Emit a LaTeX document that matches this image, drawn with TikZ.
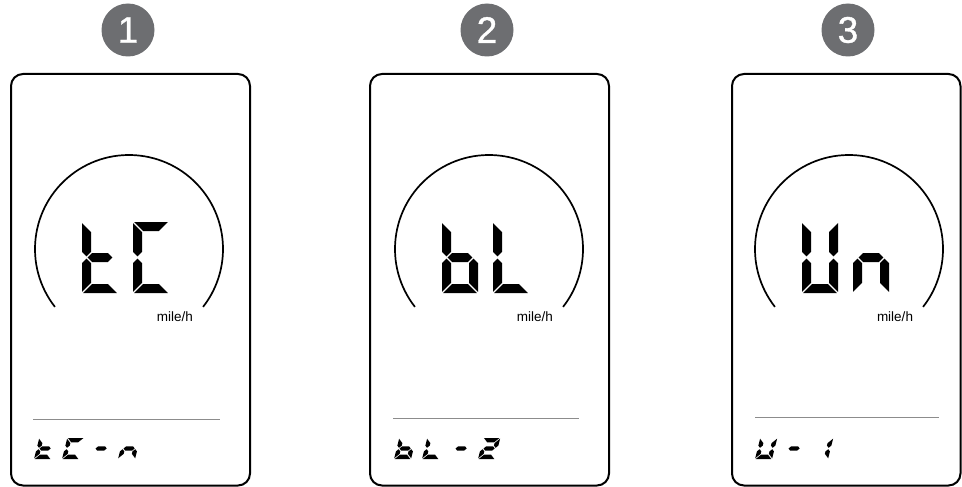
\documentclass[tikz,border=0pt]{standalone}
\usepackage{fontspec}
\setmainfont{Liberation Sans}
\newfontfamily\badgefont[FakeBold=0.9]{Liberation Sans}
\definecolor{badgegray}{HTML}{6D6E71}
\definecolor{rulegray}{HTML}{8C8C8C}
% seven-segment helpers (mitred segments), local units: \dgW width, \dgH height, \dgT thickness, \dgG gap
\newcommand\dsega{\fill (\dgG,\dgH) -- ({\dgW-\dgG},\dgH) -- ({\dgW-\dgT-\dgG},{\dgH-\dgT}) -- ({\dgT+\dgG},{\dgH-\dgT}) -- cycle;}
\newcommand\dsegd{\fill (\dgG,0) -- ({\dgW-\dgG},0) -- ({\dgW-\dgT-\dgG},\dgT) -- ({\dgT+\dgG},\dgT) -- cycle;}
\newcommand\dsegf{\fill (0,{\dgH-\dgG}) -- (\dgT,{\dgH-\dgT-\dgG}) -- (\dgT,{\dgM+\dgh+\dgG}) -- (\dgh,{\dgM+\dgG}) -- (0,{\dgM+\dgh+\dgG}) -- cycle;}
\newcommand\dsege{\fill (0,\dgG) -- (\dgT,{\dgT+\dgG}) -- (\dgT,{\dgM-\dgh-\dgG}) -- (\dgh,{\dgM-\dgG}) -- (0,{\dgM-\dgh-\dgG}) -- cycle;}
\newcommand\dsegb{\fill (\dgW,{\dgH-\dgG}) -- ({\dgW-\dgT},{\dgH-\dgT-\dgG}) -- ({\dgW-\dgT},{\dgM+\dgh+\dgG}) -- ({\dgW-\dgh},{\dgM+\dgG}) -- (\dgW,{\dgM+\dgh+\dgG}) -- cycle;}
\newcommand\dsegc{\fill (\dgW,\dgG) -- ({\dgW-\dgT},{\dgT+\dgG}) -- ({\dgW-\dgT},{\dgM-\dgh-\dgG}) -- ({\dgW-\dgh},{\dgM-\dgG}) -- (\dgW,{\dgM-\dgh-\dgG}) -- cycle;}
\newcommand\dsegg{\fill ({\dgh+\dgG},\dgM) -- ({\dgT+\dgG},{\dgM+\dgh}) -- ({\dgW-\dgT-\dgG},{\dgM+\dgh}) -- ({\dgW-\dgh-\dgG},\dgM) -- ({\dgW-\dgT-\dgG},{\dgM-\dgh}) -- ({\dgT+\dgG},{\dgM-\dgh}) -- cycle;}
% #1 x, #2 y (bottom-left), #3 W, #4 H, #5 thickness, #6 gap, #7 slant, #8 segments
\newcommand\sevdigit[8]{%
  \begin{scope}[shift={(#1,#2)}, x={(1pt,0pt)}, y={(0pt,1pt)}, xslant=#7]
    \pgfmathsetmacro\dgW{#3}\pgfmathsetmacro\dgH{#4}%
    \pgfmathsetmacro\dgT{#5}\pgfmathsetmacro\dgh{#5/2}\pgfmathsetmacro\dgG{#6}%
    \pgfmathsetmacro\dgM{#4/2}%
    \foreach \s in {#8} {\csname dseg\s\endcsname}
  \end{scope}}
\newcommand\bigdigit[3]{\sevdigit{#1}{#2}{36}{71}{9}{1.1}{0}{#3}}
\newcommand\smalldigit[3]{\sevdigit{#1}{#2}{17}{21}{4.4}{0.7}{0.25}{#3}}
\begin{document}
\begin{tikzpicture}[x=1pt,y=-1pt,
  badge/.style={circle,fill=badgegray,minimum size=53pt,inner sep=0pt,text=white,font=\badgefont\fontsize{37}{37}\selectfont},
  panel/.style={draw=black,line width=2pt,rounded corners=12pt},
  dial/.style={draw=black,line width=1.7pt},
  sepline/.style={draw=rulegray,line width=1pt},
  unit/.style={font=\fontsize{13.5}{15}\selectfont,inner sep=0pt}]
\useasboundingbox (0,0) rectangle (962,487);

% ---------- Panel 1 ----------
\node[badge] (b1) at (128,30) {1};
\draw[panel] (11,74) rectangle (250,485.5);
\draw[dial] (129,249) ++(142:94) arc[start angle=142,end angle=398,radius=94];
\node[unit] (u1) at (175,317) {mile/h};
\coordinate (l1a) at (33,419); \coordinate (l1b) at (220,419);
\draw[sepline] (l1a) -- (l1b);
\bigdigit{82}{293}{d,e,f,g}
\bigdigit{133}{293}{a,d,e,f}
\smalldigit{34}{459}{d,e,f,g}
\smalldigit{62}{459}{a,d,e,f}
\smalldigit{90}{459}{g}
\smalldigit{118}{459}{c,e,g}

% ---------- Panel 2 ----------
\node[badge] (b2) at (487,30) {2};
\draw[panel] (370,74) rectangle (609,485.5);
\draw[dial] (489,249) ++(142:94) arc[start angle=142,end angle=398,radius=94];
\node[unit] (u2) at (535,317) {mile/h};
\coordinate (l2a) at (393,418); \coordinate (l2b) at (579,418);
\draw[sepline] (l2a) -- (l2b);
\bigdigit{442}{293}{c,d,e,f,g}
\bigdigit{493}{293}{d,e,f}
\smalldigit{394}{459}{c,d,e,f,g}
\smalldigit{422}{459}{d,e,f}
\smalldigit{450}{459}{g}
\smalldigit{478}{459}{a,b,g,e,d}

% ---------- Panel 3 ----------
\node[badge] (b3) at (848,30) {3};
\draw[panel] (732,74) rectangle (960.5,485.5);
\draw[dial] (849,249) ++(142:94) arc[start angle=142,end angle=398,radius=94];
\node[unit] (u3) at (895,317) {mile/h};
\coordinate (l3a) at (755,417); \coordinate (l3b) at (939,417);
\draw[sepline] (l3a) -- (l3b);
\bigdigit{802}{293}{b,c,d,e,f}
\bigdigit{853}{293}{c,e,g}
\smalldigit{755}{459}{b,c,d,e,f}
\smalldigit{783}{459}{g}
\smalldigit{811}{459}{b,c}
\end{tikzpicture}
\end{document}
